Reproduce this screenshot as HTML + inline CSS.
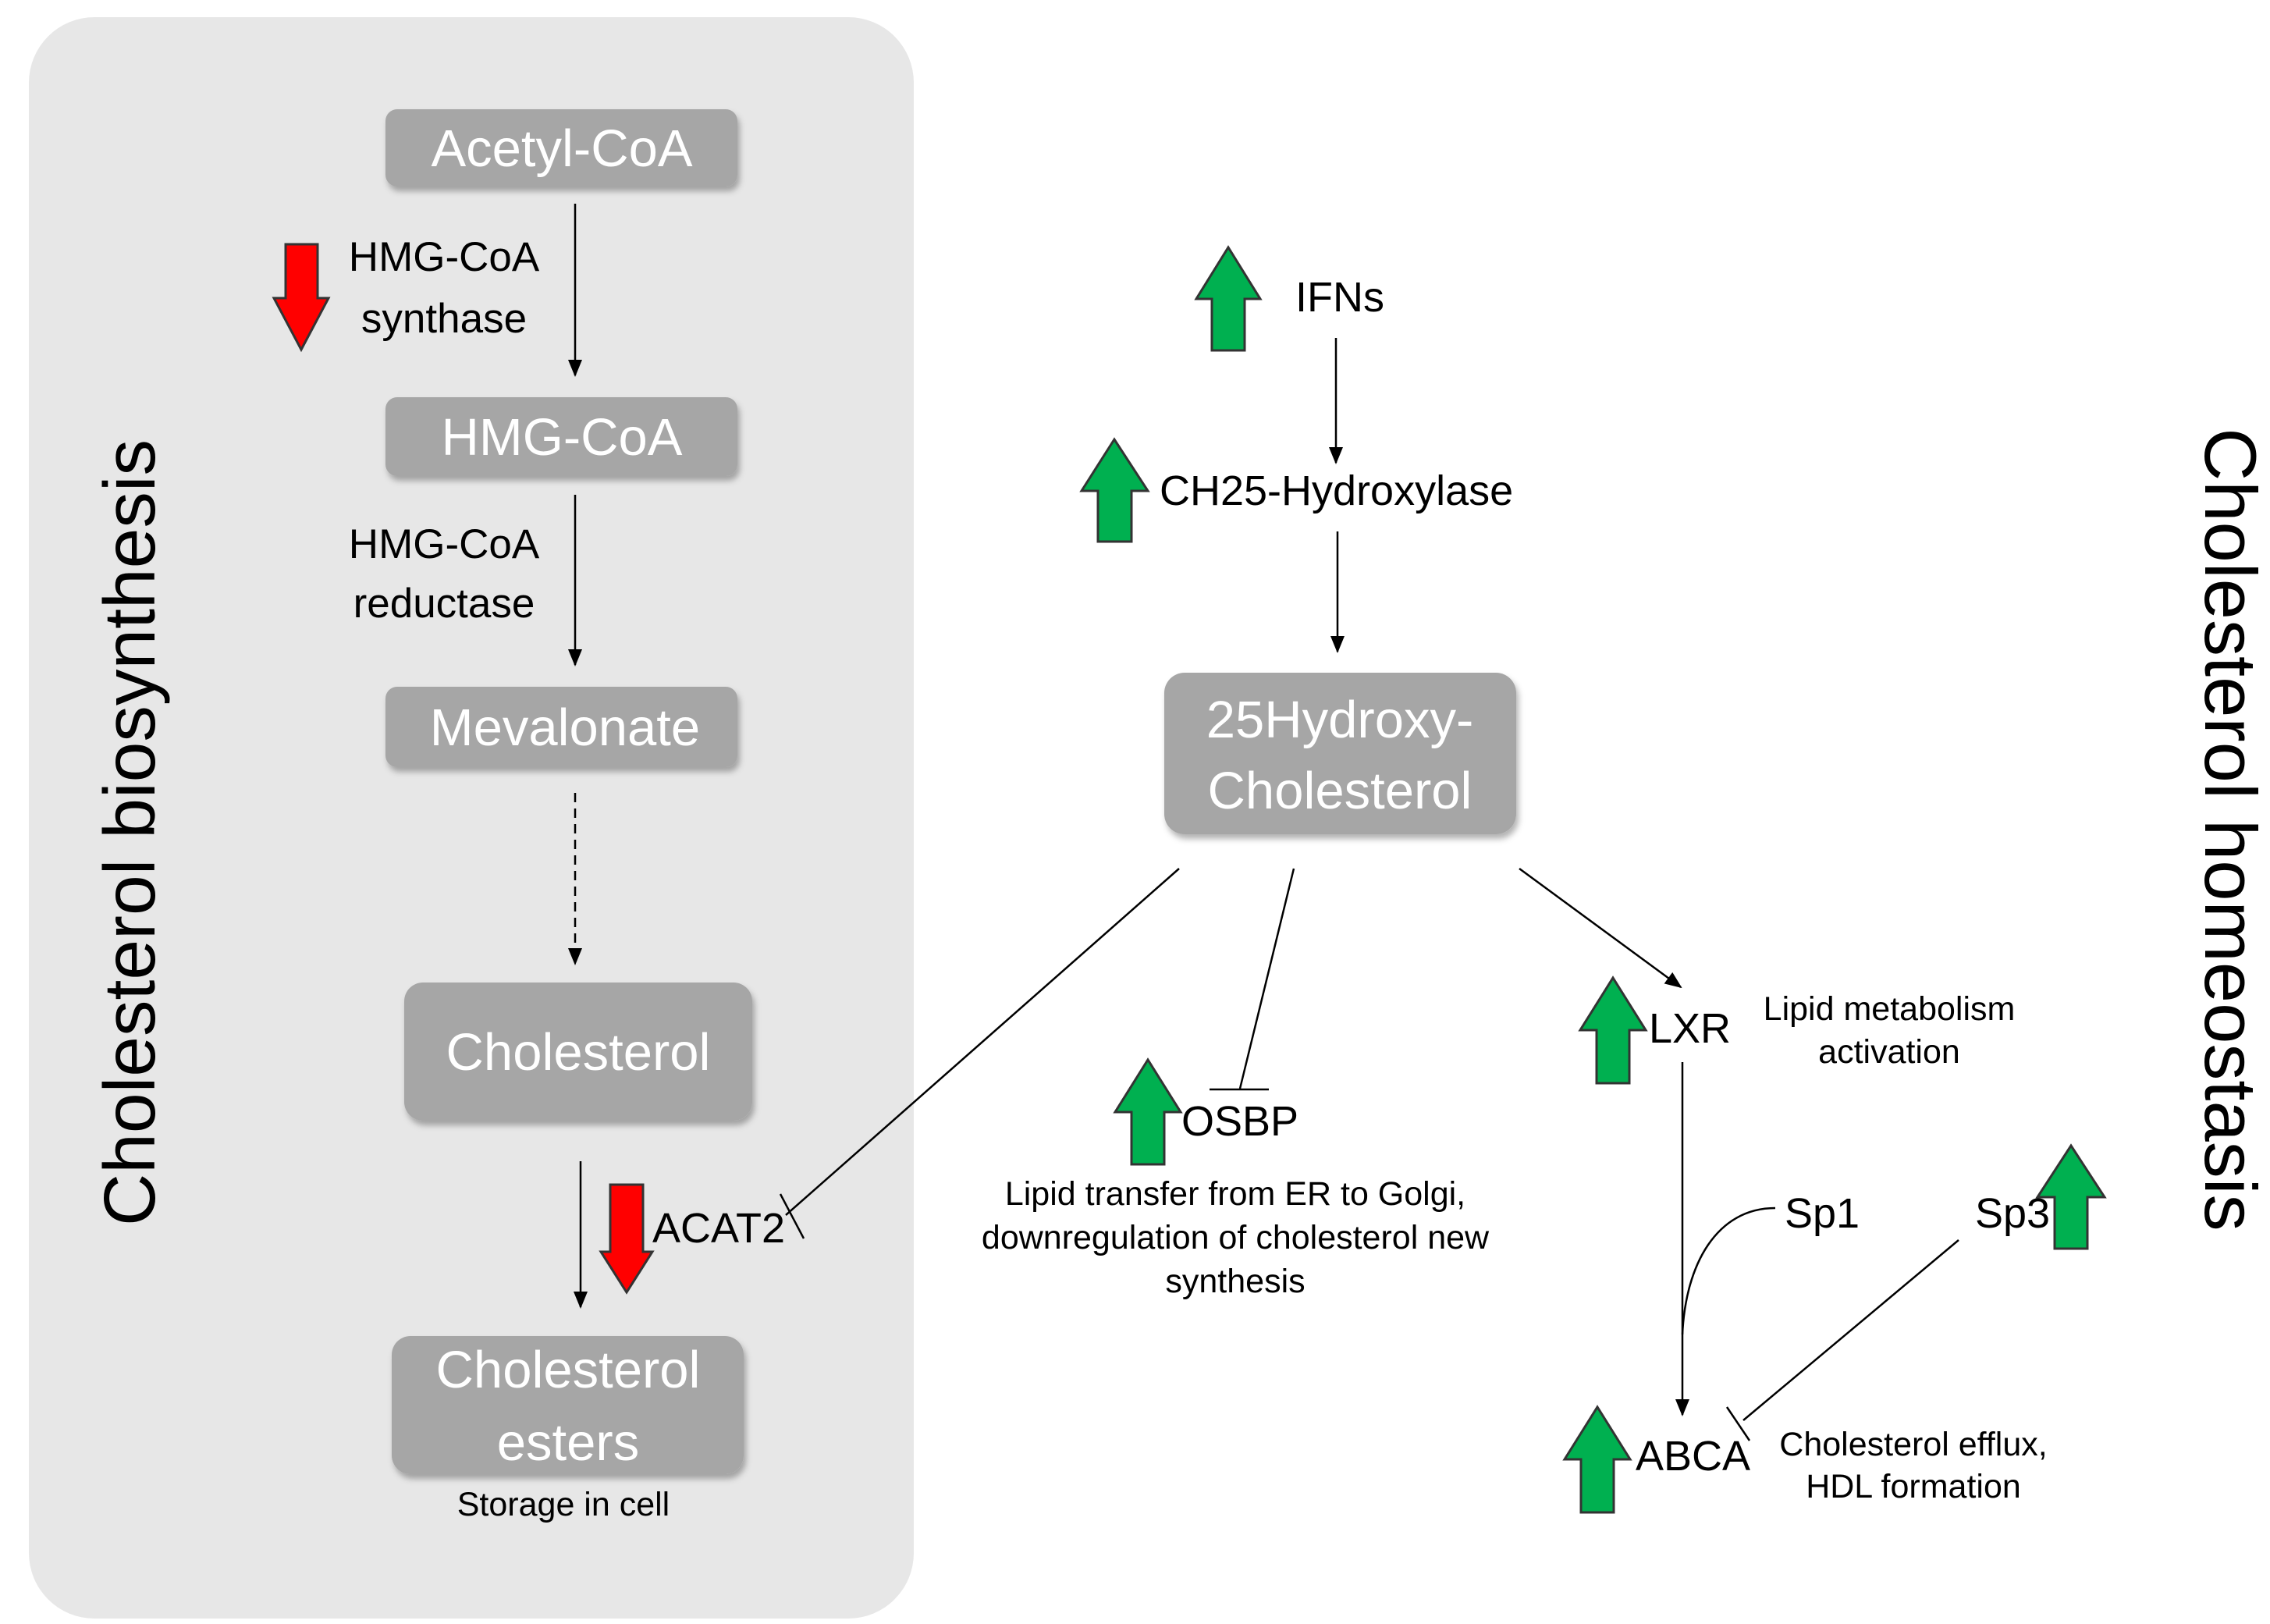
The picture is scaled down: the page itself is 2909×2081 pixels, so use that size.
<!DOCTYPE html>
<html><head><meta charset="utf-8"><style>
html,body{margin:0;padding:0;background:#fff;}
svg{display:block;}
text{font-family:"Liberation Sans",sans-serif;}
</style></head><body>
<svg width="2909" height="2081" viewBox="0 0 2909 2081" xmlns="http://www.w3.org/2000/svg">
<defs>
<marker id="ah2" markerWidth="22" markerHeight="22" refX="20" refY="11" orient="auto" markerUnits="userSpaceOnUse">
<path d="M0,2 L22,11 L0,20 z" fill="#000"/></marker>
<filter id="sh" x="-10%" y="-10%" width="130%" height="140%"><feDropShadow dx="3" dy="6" stdDeviation="4" flood-color="#000" flood-opacity="0.3"/></filter>
</defs>
<rect x="37" y="22" width="1134" height="2052" rx="84" fill="#e7e7e7"/>
<g fill="#a6a6a6" filter="url(#sh)">
<rect x="494" y="140" width="451" height="99" rx="15"/>
<rect x="494" y="509" width="451" height="101" rx="15"/>
<rect x="494" y="880" width="451" height="103" rx="15"/>
<rect x="518" y="1259" width="446" height="177" rx="24"/>
<rect x="502" y="1712" width="451" height="177" rx="24"/>
<rect x="1492" y="862" width="451" height="207" rx="26"/>
</g>
<g fill="#fff" font-size="67" text-anchor="middle">
<text x="720" y="213">Acetyl-CoA</text>
<text x="720" y="583">HMG-CoA</text>
<text x="724" y="955">Mevalonate</text>
<text x="741" y="1371">Cholesterol</text>
<text x="728" y="1778">Cholesterol</text>
<text x="728" y="1871">esters</text>
<text x="1717" y="945">25Hydroxy-</text>
<text x="1717" y="1036">Cholesterol</text>
</g>
<g stroke="#000" stroke-width="2.5" fill="none">
<line x1="737" y1="261" x2="737" y2="481" marker-end="url(#ah2)"/>
<line x1="737" y1="634" x2="737" y2="852" marker-end="url(#ah2)"/>
<line x1="737" y1="1016" x2="737" y2="1235" stroke-dasharray="12,8" marker-end="url(#ah2)"/>
<line x1="744" y1="1488" x2="744" y2="1675" marker-end="url(#ah2)"/>
<line x1="1712" y1="433" x2="1712" y2="593" marker-end="url(#ah2)"/>
<line x1="1714" y1="681" x2="1714" y2="835" marker-end="url(#ah2)"/>
<line x1="1511" y1="1113" x2="1007" y2="1557"/>
<line x1="1000" y1="1530" x2="1030" y2="1587"/>
<line x1="1658" y1="1113" x2="1589" y2="1395"/>
<line x1="1550" y1="1396" x2="1626" y2="1396"/>
<line x1="1947" y1="1113" x2="2154" y2="1265" marker-end="url(#ah2)"/>
<line x1="2156" y1="1361" x2="2156" y2="1813" marker-end="url(#ah2)"/>
<path d="M2275,1548 C2200,1548 2160,1620 2156,1710"/>
<line x1="2510" y1="1589" x2="2234" y2="1820"/>
<line x1="2213" y1="1803" x2="2242" y2="1846"/>
</g>
<g fill="#000" font-size="53" text-anchor="middle">
<text x="569" y="347">HMG-CoA</text>
<text x="569" y="426">synthase</text>
<text x="569" y="715">HMG-CoA</text>
<text x="569" y="791">reductase</text>
</g>
<g fill="#000" font-size="54">
<text x="836" y="1592">ACAT2</text>
<text x="1660" y="399">IFNs</text>
<text x="1486" y="647">CH25-Hydroxylase</text>
<text x="1514" y="1455">OSBP</text>
<text x="2113" y="1336">LXR</text>
<text x="2287" y="1573">Sp1</text>
<text x="2531" y="1573">Sp3</text>
<text x="2096" y="1884">ABCA</text>
</g>
<g fill="#000" font-size="43" text-anchor="middle">
<text x="722" y="1942">Storage in cell</text>
<text x="1583" y="1544">Lipid transfer from ER to Golgi,</text>
<text x="1583" y="1600">downregulation of cholesterol new</text>
<text x="1583" y="1656">synthesis</text>
<text x="2421" y="1307">Lipid metabolism</text>
<text x="2421" y="1362">activation</text>
<text x="2452" y="1865">Cholesterol  efflux,</text>
<text x="2452" y="1919">HDL formation</text>
</g>
<text transform="translate(198,1067) rotate(-90)" font-size="93" text-anchor="middle" fill="#000">Cholesterol biosynthesis</text>
<text transform="translate(2826,1063) rotate(90)" font-size="94" text-anchor="middle" fill="#000">Cholesterol homeostasis</text>
<g stroke="#333" stroke-width="3">
<path fill="#ff0000" d="M366,313 H407 V382 H421 L386,448 L351,382 H366 Z"/>
<path fill="#ff0000" d="M782,1518 H824 V1604 H836 L803,1656 L770,1604 H782 Z"/>
<g fill="#00b050">
<path d="M1553,449 H1595 V383 H1615 L1574,317 L1533,383 H1553 Z"/>
<path d="M1407,694 H1450 V629 H1471 L1428,563 L1386,629 H1407 Z"/>
<path d="M1450,1492 H1492 V1425 H1513 L1471,1358 L1429,1425 H1450 Z"/>
<path d="M2046,1388 H2088 V1320 H2109 L2067,1253 L2025,1320 H2046 Z"/>
<path d="M2633,1600 H2675 V1534 H2697 L2654,1468 L2611,1534 H2633 Z"/>
<path d="M2026,1938 H2068 V1870 H2089 L2047,1803 L2005,1870 H2026 Z"/>
</g>
</g>
</svg>
</body></html>
